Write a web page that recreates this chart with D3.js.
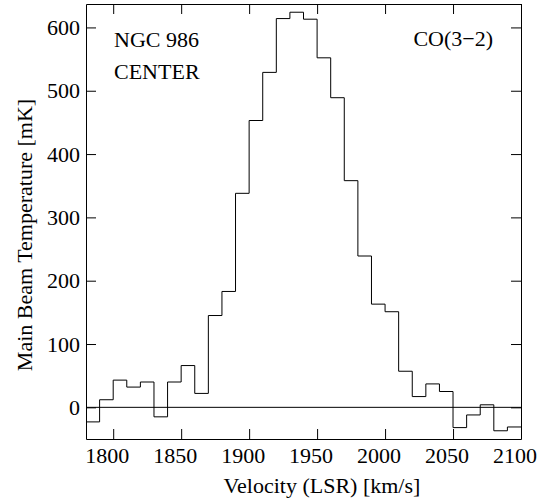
<!DOCTYPE html>
<html>
<head>
<meta charset="utf-8">
<script src="https://cdn.jsdelivr.net/npm/d3@7"></script>
<style>
    body { margin: 0; background: #fff; }
</style>
</head>
<body>
<div id="chart"></div>
<script>
// channel left edges (km/s), 10 km/s wide
const channels = [1780, 1790, 1800, 1810, 1820, 1830, 1840, 1850, 1860, 1870, 1880, 1890, 1900, 1910, 1920, 1930,
    1940, 1950, 1960, 1970, 1980, 1990, 2000, 2010, 2020, 2030, 2040, 2050, 2060, 2070, 2080, 2090]
const channelWidth = 10
// main beam temperature (mK)
const temps = [-23, 12, 43, 32, 40, -15, 40, 66, 22, 145, 183, 338, 453, 529, 614, 624,
    613, 552, 489, 358, 239, 163, 151, 57, 17, 37, 25, -32, -12, 4, -37, -31]
const xTicks = [1800, 1850, 1900, 1950, 2000, 2050, 2100]
const yTicks = [0, 100, 200, 300, 400, 500, 600]

const width = 540
const height = 504
const plotLeft = 86, plotRight = 521, plotTop = 4, plotBottom = 439
const fontSize = 22
const serif = '"Liberation Serif", "DejaVu Serif", serif'

const x = d3.scaleLinear().domain([1780, 2100]).range([plotLeft, plotRight])
const y = d3.scaleLinear().domain([-50, 637]).range([plotBottom, plotTop])

const svg = d3.select('#chart')
    .append('svg')
    .attr('width', width)
    .attr('height', height)
    .attr('font-family', serif)
    .attr('font-size', fontSize)

// zero line
svg.append('line')
    .attr('x1', x(1780)).attr('x2', x(2100))
    .attr('y1', y(0)).attr('y2', y(0))
    .attr('stroke', '#000')
    .attr('stroke-width', 1)

// spectrum as histogram steps
const pts = channels.map((c, i) => [c, temps[i]])
pts.push([channels[channels.length - 1] + channelWidth, temps[temps.length - 1]])
const line = d3.line()
    .x((d) => x(d[0]))
    .y((d) => y(d[1]))
    .curve(d3.curveStepAfter)
svg.append('path')
    .attr('d', line(pts))
    .attr('fill', 'none')
    .attr('stroke', '#000')
    .attr('stroke-width', 1)

const styleAxis = (g) => {
    g.attr('font-family', serif).attr('font-size', fontSize)
    g.selectAll('path, line').attr('stroke', '#000').attr('stroke-width', 1)
    g.selectAll('text').attr('fill', '#000')
}

svg.append('g')
    .attr('transform', `translate(0, ${plotBottom})`)
    .call(d3.axisBottom(x).tickValues(xTicks).tickSizeInner(-10).tickSizeOuter(0).tickPadding(8).tickFormat(d3.format('d')))
    .call(styleAxis)
    .call((g) => g.selectAll('text').attr('dx', -6.5))
svg.append('g')
    .attr('transform', `translate(0, ${plotTop})`)
    .call(d3.axisTop(x).tickValues(xTicks).tickSizeInner(-10).tickSizeOuter(0).tickFormat(''))
    .call(styleAxis)
svg.append('g')
    .attr('transform', `translate(${plotLeft}, 0)`)
    .call(d3.axisLeft(y).tickValues(yTicks).tickSizeInner(-10).tickSizeOuter(0).tickPadding(6))
    .call(styleAxis)
svg.append('g')
    .attr('transform', `translate(${plotRight}, 0)`)
    .call(d3.axisRight(y).tickValues(yTicks).tickSizeInner(-10).tickSizeOuter(0).tickFormat(''))
    .call(styleAxis)

// titles
svg.append('text')
    .attr('x', 322).attr('y', 493)
    .attr('text-anchor', 'middle')
    .text('Velocity (LSR) [km/s]')
svg.append('text')
    .attr('transform', 'translate(32, 235) rotate(-90)')
    .attr('text-anchor', 'middle')
    .text('Main Beam Temperature [mK]')

svg.append('text').attr('x', 114).attr('y', 46.5).text('NGC 986')
svg.append('text').attr('x', 114).attr('y', 79).text('CENTER')
svg.append('text').attr('x', 493).attr('y', 45.5).attr('text-anchor', 'end').text('CO(3\u22122)')
</script>
</body>
</html>
